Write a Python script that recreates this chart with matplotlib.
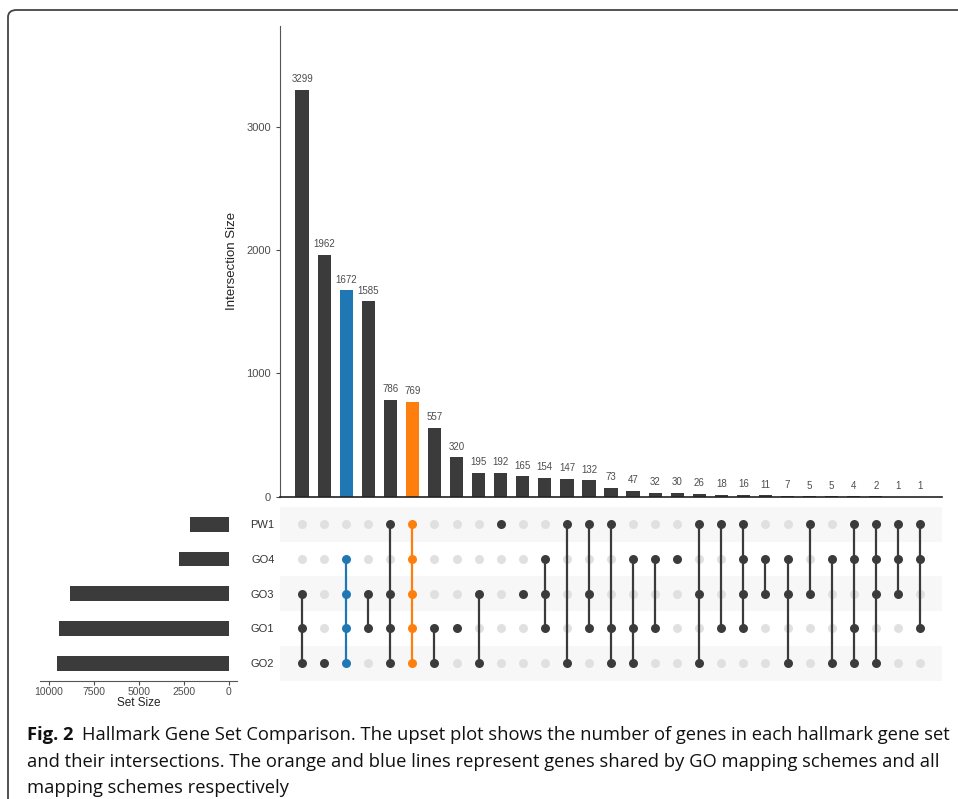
import matplotlib
matplotlib.use("Agg")
import matplotlib.pyplot as plt
from matplotlib.patches import FancyBboxPatch

# data
sets = ["PW1", "GO4", "GO3", "GO1", "GO2"]
set_sizes = [2172, 2751, 8825, 9465, 9551]

counts = [3299, 1962, 1672, 1585, 786, 769, 557, 320, 195, 192, 165, 154, 147, 132,
          73, 47, 32, 30, 26, 18, 16, 11, 7, 5, 5, 4, 2, 1, 1]

members = [
    ["GO3", "GO1", "GO2"],
    ["GO2"],
    ["GO4", "GO3", "GO1", "GO2"],
    ["GO3", "GO1"],
    ["PW1", "GO3", "GO1", "GO2"],
    ["PW1", "GO4", "GO3", "GO1", "GO2"],
    ["GO1", "GO2"],
    ["GO1"],
    ["GO3", "GO2"],
    ["PW1"],
    ["GO3"],
    ["GO4", "GO3", "GO1"],
    ["PW1", "GO2"],
    ["PW1", "GO3", "GO1"],
    ["PW1", "GO1", "GO2"],
    ["GO4", "GO1", "GO2"],
    ["GO4", "GO1"],
    ["GO4"],
    ["PW1", "GO3", "GO2"],
    ["PW1", "GO1"],
    ["PW1", "GO4", "GO3", "GO1"],
    ["GO4", "GO3"],
    ["GO4", "GO3", "GO2"],
    ["PW1", "GO3"],
    ["GO4", "GO2"],
    ["PW1", "GO4", "GO1", "GO2"],
    ["PW1", "GO4", "GO3", "GO2"],
    ["PW1", "GO4", "GO3"],
    ["PW1", "GO4", "GO1"],
]

# highlighted intersections
highlight = {2: "#1f77b4", 5: "#ff7f0e"}

dark = "#3b3b3b"
inactive = "#e0e0e0"
band = "#f7f7f7"
txt = "#4d4d4d"

caption_bold = "Fig. 2"
caption_lines = [
    "Hallmark Gene Set Comparison. The upset plot shows the number of genes in each hallmark gene set",
    "and their intersections. The orange and blue lines represent genes shared by GO mapping schemes and all",
    "mapping schemes respectively",
]

fig = plt.figure(figsize=(9.58, 7.99), dpi=100)
plt.rcParams["font.family"] = ["Liberation Sans", "DejaVu Sans"]

n = len(counts)
xs = list(range(n))
col_colors = [highlight.get(i, dark) for i in xs]

# intersection bars
ax_bar = fig.add_axes([0.2923, 0.3783, 0.691, 0.589])
ax_bar.bar(xs, counts, width=0.6, color=col_colors)
for x, c in zip(xs, counts):
    ax_bar.annotate(str(c), (x, c), xytext=(0, 4), textcoords="offset points",
                    ha="center", va="bottom", fontsize=7, color=txt)
ax_bar.set_xlim(-1, n)
ax_bar.set_ylim(0, 3815)
ax_bar.set_xticks([])
ax_bar.set_yticks([0, 1000, 2000, 3000])
ax_bar.tick_params(axis="y", labelsize=8, colors=txt, length=3, width=0.8)
ax_bar.spines["top"].set_visible(False)
ax_bar.spines["right"].set_visible(False)
ax_bar.spines["left"].set_color("#555555")
ax_bar.spines["left"].set_linewidth(0.8)
ax_bar.spines["bottom"].set_color("#222222")
ax_bar.spines["bottom"].set_linewidth(1.2)
ax_bar.set_ylabel("Intersection Size", fontsize=9.5, color="#222222", labelpad=6)

# matrix
ax_m = fig.add_axes([0.2923, 0.1483, 0.691, 0.2172])
for i in range(len(sets)):
    if i % 2 == 0:
        ax_m.axhspan(i - 0.5, i + 0.5, color=band, lw=0, zorder=0)
for x in xs:
    rows = [sets.index(s) for s in members[x]]
    for i in range(len(sets)):
        if i not in rows:
            ax_m.scatter(x, i, s=42, color=inactive, lw=0, zorder=2)
    ax_m.plot([x, x], [min(rows), max(rows)], color=col_colors[x], lw=1.6, zorder=3)
    ax_m.scatter([x] * len(rows), rows, s=42, color=col_colors[x], lw=0, zorder=4)
ax_m.set_xlim(-1, n)
ax_m.set_ylim(len(sets) - 0.5, -0.5)
ax_m.set_xticks([])
ax_m.set_yticks(range(len(sets)))
ax_m.set_yticklabels(sets)
ax_m.tick_params(axis="y", length=0, pad=4, labelsize=8, colors="#333333")
for sp in ax_m.spines.values():
    sp.set_visible(False)

# set sizes
ax_s = fig.add_axes([0.0418, 0.1483, 0.2056, 0.2172])
ax_s.barh(range(len(sets)), set_sizes, height=0.43, color=dark)
ax_s.set_ylim(len(sets) - 0.5, -0.5)
ax_s.set_xlim(10500, -450)
ax_s.set_xticks([10000, 7500, 5000, 2500, 0])
ax_s.set_yticks([])
ax_s.tick_params(axis="x", labelsize=7.5, colors=txt, length=3, width=0.8, pad=2)
for sp in ["top", "right", "left"]:
    ax_s.spines[sp].set_visible(False)
ax_s.spines["bottom"].set_color("#555555")
ax_s.spines["bottom"].set_linewidth(0.8)
ax_s.set_xlabel("Set Size", fontsize=8.5, color="#222222", labelpad=0)

# frame
frame = FancyBboxPatch((8 / 958, -0.05), 1.1, 1.05 - 10 / 799,
                       boxstyle="round,pad=0,rounding_size=0.009",
                       transform=fig.transFigure, fill=False,
                       ec="#444444", lw=1.3, clip_on=False)
fig.patches.append(frame)

# caption
cap_font = ["Open Sans", "DejaVu Sans"]
cap_size = 13.2
t = fig.text(27 / 958, 1 - 740 / 799, caption_bold, fontsize=cap_size, fontweight="bold",
             family=cap_font, color="#111111", va="baseline")
fig.canvas.draw()
bb = t.get_window_extent()
fig.text((bb.x1 + 8) / 958, 1 - 740 / 799, caption_lines[0], fontsize=cap_size,
         family=cap_font, color="#111111", va="baseline")
fig.text(27 / 958, 1 - 767 / 799, caption_lines[1], fontsize=cap_size,
         family=cap_font, color="#111111", va="baseline")
fig.text(27 / 958, 1 - 793 / 799, caption_lines[2], fontsize=cap_size,
         family=cap_font, color="#111111", va="baseline")

fig.savefig("out.png", dpi=100)
